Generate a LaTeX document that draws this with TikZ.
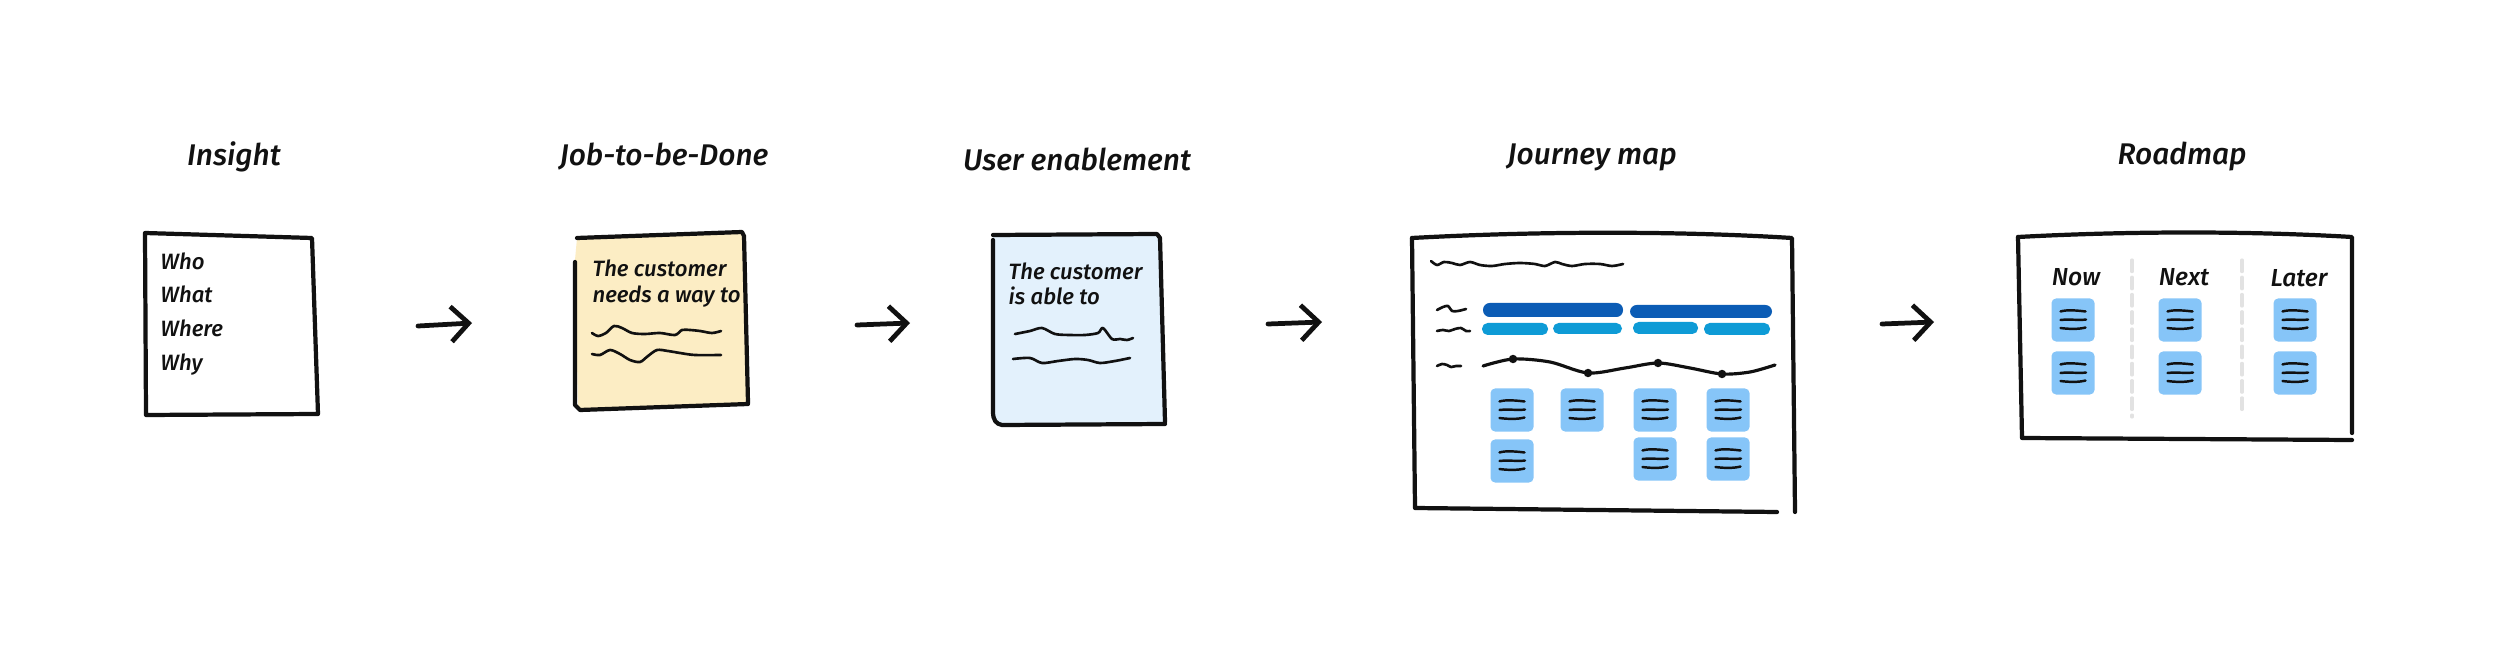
\documentclass[tikz,border=0pt]{standalone}
\usepackage{fontspec}
\setmainfont{Fira Sans}[BoldFont={Fira Sans Medium}, BoldItalicFont={Fira Sans Medium Italic}]
\usetikzlibrary{arrows.meta}
\definecolor{ink}{HTML}{111111}
\definecolor{jobfill}{HTML}{FCEDC4}
\definecolor{userfill}{HTML}{E3F1FC}
\definecolor{stickyblue}{HTML}{86C5F8}
\definecolor{bardark}{HTML}{0B5CB5}
\definecolor{barlight}{HTML}{0E9BD6}
\definecolor{divider}{HTML}{E2E2E2}
\newcommand{\stickylines}{%
  \draw[ink, line width=0.7pt] ([shift={(-0.125cm,0.085cm)}]path picture bounding box.center) .. controls +(0.06cm,0.02cm) and +(-0.08cm,0.01cm) .. ([shift={(0.125cm,0.085cm)}]path picture bounding box.center);
  \draw[ink, line width=0.7pt] ([shift={(-0.125cm,0.0cm)}]path picture bounding box.center) .. controls +(0.08cm,0.01cm) and +(-0.06cm,-0.01cm) .. ([shift={(0.13cm,0.005cm)}]path picture bounding box.center);
  \draw[ink, line width=0.7pt] ([shift={(-0.125cm,-0.08cm)}]path picture bounding box.center) .. controls +(0.07cm,-0.01cm) and +(-0.07cm,-0.02cm) .. ([shift={(0.125cm,-0.075cm)}]path picture bounding box.center);}
\begin{document}
\begin{tikzpicture}[x=0.01cm,y=-0.01cm, line cap=round, line join=round,
  title/.style={font=\fontsize{8.5}{10}\selectfont\bfseries\itshape, text=ink, inner sep=0},
  body/.style={font=\fontsize{6.3}{7}\selectfont\bfseries\itshape, text=ink, anchor=base west, inner sep=0},
  frame/.style={draw=ink, line width=1.2pt},
  scrib/.style={draw=ink, line width=0.75pt},
  stickybox/.style={fill=stickyblue, rounded corners=1.3pt, minimum size=0.43cm, inner sep=0, path picture={\stickylines}},
  flow/.style={draw=ink, line width=1.35pt, -{Straight Barb[length=5pt,width=10pt,line width=1.35pt]}},
  barD/.style={fill=bardark, rounded corners=1.9pt},
  barL/.style={fill=barlight, rounded corners=1.6pt},
  dividerline/.style={draw=divider, line width=0.9pt, dash pattern=on 3.3pt off 1.6pt},
  dot/.style={circle, fill=ink, inner sep=0, minimum size=2.4pt}
]
\fill[white] (0,0) rectangle (2500,661);
\useasboundingbox (0,0) rectangle (2500,661);

% ---------- titles
\node[title] (t1) at (234,157) {Insight};
\node[title] (t2) at (664,157) {Job-to-be-Done};
\node[title] (t3) at (1077,159) {User enablement};
\node[title] (t4) at (1592,157) {Journey map};
\node[title] (t5) at (2182,157) {Roadmap};

% ---------- Insight box
\draw[frame] (145,233) -- (312,238) -- (318,414) -- (146,415) -- cycle;
\node[body] (w1) at (160,270) {Who};
\node[body] (w2) at (160,303) {What};
\node[body] (w3) at (160,337) {Where};
\node[body] (w4) at (160,370) {Why};

% ---------- Job-to-be-Done box
\fill[jobfill] (577,238) -- (742,232) -- (748,405) -- (578,410) -- (575,260) -- cycle;
\draw[frame] (577,238) -- (742,232) -- (744,236) -- (748,403);
\draw[frame] (575,262) -- (575,405) -- (580,410) -- (748,404);
\node[body] (j1) at (592,277) {The customer};
\node[body] (j2) at (592,303) {needs a way to};
\draw[scrib] plot[smooth] coordinates {(592,333) (598,336) (606,333) (614,326) (622,328) (632,333) (645,334) (660,333) (675,335) (682,330) (690,330) (700,331) (712,333) (721,331)};
\draw[scrib] plot[smooth] coordinates {(592,354) (600,355) (610,350) (620,354) (630,360) (640,362) (648,356) (657,350) (668,351) (680,353) (695,355) (721,355)};

% ---------- User enablement box
\fill[userfill] (993,235) -- (1160,235) -- (1165,425) -- (1002,425) .. controls (996,424) and (993,420) .. (993,412) -- cycle;
\draw[frame] (993,235) -- (1157,234) -- (1160,238) -- (1165,422);
\draw[frame] (993,240) -- (993,412) .. controls (993,420) and (996,424) .. (1002,425) -- (1165,424);
\node[body] (u1) at (1008,280) {The customer};
\node[body] (u2) at (1008,305) {is able to};
\draw[scrib] plot[smooth] coordinates {(1015,334) (1030,331) (1042,328) (1055,334) (1070,335) (1085,335) (1098,333) (1103,328) (1112,339) (1120,339) (1127,340) (1133,338)};
\draw[scrib] plot[smooth] coordinates {(1013,359) (1030,358) (1042,363) (1058,361) (1075,359) (1088,360) (1100,363) (1115,361) (1130,358)};

% ---------- Journey map box
\draw[frame] (1412,238) .. controls (1540,231) and (1680,231) .. (1792,238) -- (1795,512);
\draw[frame] (1412,238) -- (1415,508) -- (1777,512);
% title squiggle
\draw[scrib] plot[smooth] coordinates {(1431,261) (1437,265) (1444,262) (1452,263) (1460,265) (1470,262) (1480,265) (1492,266) (1505,264) (1520,263) (1535,264) (1545,266) (1555,262) (1562,264) (1572,266) (1585,264) (1600,264) (1612,266) (1623,264)};
% left labels
\draw[scrib] plot[smooth] coordinates {(1437,310) (1443,307) (1448,306) (1452,311) (1458,311) (1466,309)};
\draw[scrib] plot[smooth] coordinates {(1437,331) (1443,330) (1449,331) (1455,329) (1461,328) (1466,331) (1470,331)};
\draw[scrib] plot[smooth] coordinates {(1437,366) (1442,364) (1447,365) (1451,367) (1456,366) (1461,366)};
% bars
\fill[barD] (1483,303) rectangle (1623,317);
\fill[barD] (1630,305) rectangle (1772,318);
\fill[barL] (1482,323) rectangle (1548,335);
\fill[barL] (1553,323) rectangle (1622,334);
\fill[barL] (1633,322) rectangle (1698,334);
\fill[barL] (1704,323) rectangle (1770,335);
% journey line
\draw[ink, line width=0.9pt] plot[smooth] coordinates {(1483,366) (1513,359) (1550,362) (1588,373) (1625,368) (1658,363) (1690,368) (1722,374) (1750,372) (1775,365)};
\node[dot] (d1) at (1513,359) {};
\node[dot] (d2) at (1588,373) {};
\node[dot] (d3) at (1658,363) {};
\node[dot] (d4) at (1722,374) {};
% stickies
\node[stickybox] (js1) at (1512,410) {};
\node[stickybox] (js2) at (1582,410) {};
\node[stickybox] (js3) at (1655,410) {};
\node[stickybox] (js4) at (1728,410) {};
\node[stickybox] (js5) at (1512,461) {};
\node[stickybox] (js6) at (1655,459) {};
\node[stickybox] (js7) at (1728,459) {};

% ---------- Roadmap box
\draw[frame] (2018,237) .. controls (2130,231) and (2250,231) .. (2352,237) -- (2352,433);
\draw[frame] (2018,237) -- (2022,438) -- (2352,440);
\draw[dividerline] (2132,260) -- (2132,417);
\draw[dividerline] (2242,260) -- (2242,413);
\node[title, font=\fontsize{7}{8}\selectfont\bfseries\itshape] (n1) at (2076,277) {Now};
\node[title, font=\fontsize{7}{8}\selectfont\bfseries\itshape] (n2) at (2184,277) {Next};
\node[title, font=\fontsize{7}{8}\selectfont\bfseries\itshape] (n3) at (2299,278) {Later};
\node[stickybox] (r1) at (2073,320) {};
\node[stickybox] (r2) at (2180,320) {};
\node[stickybox] (r3) at (2295,320) {};
\node[stickybox] (r4) at (2073,373) {};
\node[stickybox] (r5) at (2180,373) {};
\node[stickybox] (r6) at (2295,373) {};

% ---------- arrows
\coordinate (a1s) at (418,326); \coordinate (a1e) at (472,323);
\coordinate (a2s) at (857,325); \coordinate (a2e) at (910,323);
\coordinate (a3s) at (1268,324); \coordinate (a3e) at (1322,322);
\coordinate (a4s) at (1882,324); \coordinate (a4e) at (1934,322);
\draw[flow] (a1s) -- (a1e);
\draw[flow] (a2s) -- (a2e);
\draw[flow] (a3s) -- (a3e);
\draw[flow] (a4s) -- (a4e);
\end{tikzpicture}
\end{document}
